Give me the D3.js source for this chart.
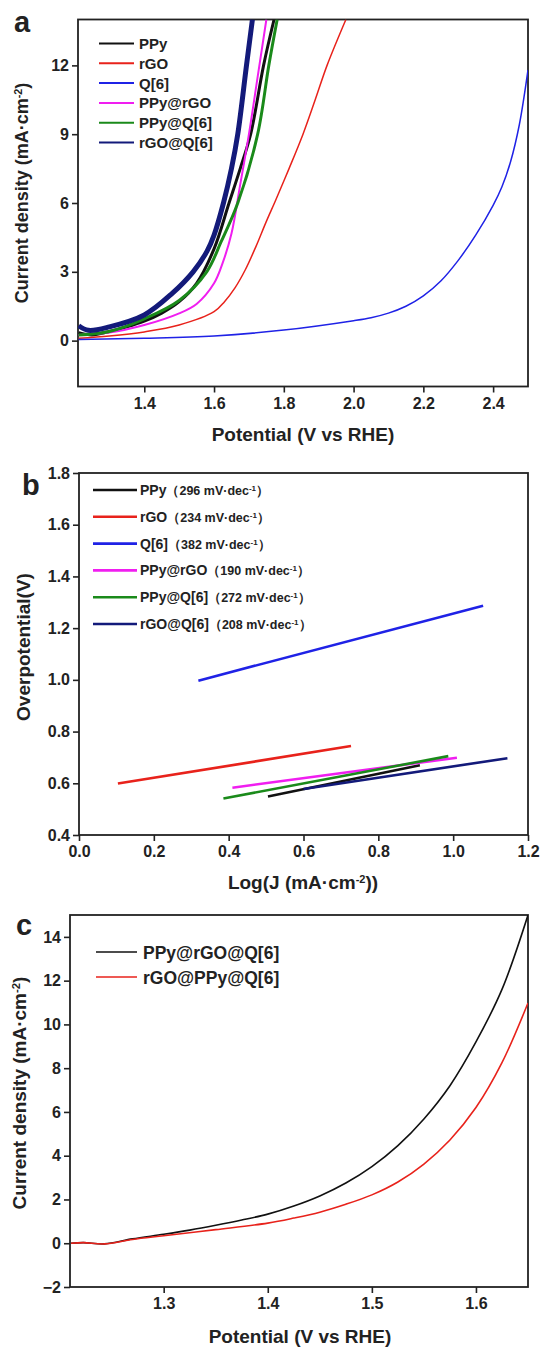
<!DOCTYPE html>
<html>
<head>
<meta charset="utf-8">
<script src="https://cdn.jsdelivr.net/npm/d3@7"></script>
<style>
  body { margin: 0; background: #fff; }
  svg text { font-family: "Liberation Sans", Arial, sans-serif; font-weight: bold; fill: #222; }
</style>
</head>
<body>
<svg id="chart" width="540" height="1349"></svg>
<script>
// ---- panel a: LSV curves ----
var aNames = ["PPy", "rGO", "Q[6]", "PPy@rGO", "PPy@Q[6]", "rGO@Q[6]"];
var aColors = ["#111111", "#e8221b", "#1f22e6", "#f01ef0", "#1a8a1a", "#131a7a"];
var aX = [
  [1.212, 1.25, 1.3, 1.35, 1.4, 1.45, 1.5, 1.55, 1.6, 1.643, 1.675, 1.705, 1.742, 1.772],
  [1.212, 1.3, 1.4, 1.5, 1.6, 1.63, 1.66, 1.69, 1.72, 1.75, 1.776, 1.815, 1.855, 1.89, 1.924, 1.978],
  [1.212, 1.4, 1.6, 1.8, 2.0, 2.05, 2.1, 2.15, 2.2, 2.25, 2.3, 2.35, 2.4, 2.425, 2.45, 2.475, 2.5],
  [1.212, 1.3, 1.4, 1.5, 1.55, 1.6, 1.625, 1.65, 1.675, 1.7, 1.725, 1.75],
  [1.212, 1.3, 1.4, 1.5, 1.579, 1.62, 1.668, 1.725, 1.757, 1.781],
  [1.212, 1.24, 1.3, 1.4, 1.48, 1.54, 1.58, 1.6, 1.627, 1.65, 1.668, 1.693, 1.71]
];
var aY = [
  [0.35, 0.25, 0.4, 0.6, 0.85, 1.2, 1.7, 2.5, 4.0, 6.0, 7.5, 9.0, 12.0, 14.0],
  [0.1, 0.2, 0.38, 0.68, 1.26, 1.7, 2.3, 3.1, 4.1, 5.2, 6.1, 7.5, 9.0, 10.5, 12.0, 14.0],
  [0.05, 0.1, 0.2, 0.46, 0.87, 1.0, 1.2, 1.5, 1.95, 2.6, 3.5, 4.6, 5.9, 6.7, 7.8, 9.4, 11.8],
  [0.25, 0.35, 0.68, 1.19, 1.6, 2.5, 3.4, 4.67, 6.8, 9.0, 11.5, 14.0],
  [0.25, 0.4, 0.95, 1.75, 3.0, 4.3, 6.0, 9.0, 12.0, 14.0],
  [0.65, 0.45, 0.6, 1.12, 2.06, 3.0, 3.9, 4.6, 6.0, 7.5, 9.0, 12.0, 14.0]
];
var aWidths = [3, 1.5, 1.5, 2, 3, 5];
var aXTicks = [1.4, 1.6, 1.8, 2.0, 2.2, 2.4];
var aYTicks = [0, 3, 6, 9, 12];

// ---- panel b: Tafel lines ----
var bNames = ["PPy", "rGO", "Q[6]", "PPy@rGO", "PPy@Q[6]", "rGO@Q[6]"];
var bSlopes = ["296", "234", "382", "190", "272", "208"];
var bColors = ["#111111", "#e8221b", "#1f22e6", "#f01ef0", "#1a8a1a", "#131a7a"];
var bX = [[0.505, 0.911], [0.104, 0.727], [0.319, 1.08], [0.41, 1.01], [0.386, 0.987], [0.60, 1.145]];
var bY = [[0.549, 0.670], [0.599, 0.744], [0.997, 1.287], [0.583, 0.699], [0.541, 0.705], [0.578, 0.697]];
var bXTicks = [0.0, 0.2, 0.4, 0.6, 0.8, 1.0, 1.2];
var bYTicks = [0.4, 0.6, 0.8, 1.0, 1.2, 1.4, 1.6, 1.8];

// ---- panel c: composite LSV ----
var cNames = ["PPy@rGO@Q[6]", "rGO@PPy@Q[6]"];
var cColors = ["#111111", "#e8221b"];
var cX = [
  [1.211, 1.223, 1.243, 1.27, 1.3, 1.325, 1.35, 1.375, 1.4, 1.425, 1.45, 1.475, 1.5, 1.525, 1.55, 1.575, 1.6, 1.625, 1.65],
  [1.211, 1.223, 1.243, 1.27, 1.3, 1.35, 1.4, 1.425, 1.45, 1.475, 1.5, 1.525, 1.55, 1.575, 1.6, 1.625, 1.65]
];
var cY = [
  [0.0, 0.03, -0.03, 0.2, 0.41, 0.6, 0.82, 1.06, 1.33, 1.7, 2.16, 2.75, 3.5, 4.46, 5.68, 7.2, 9.2, 11.6, 15.0],
  [0.0, 0.03, -0.03, 0.17, 0.34, 0.62, 0.92, 1.15, 1.42, 1.78, 2.21, 2.8, 3.62, 4.72, 6.2, 8.25, 10.98]
];
var cXTicks = [1.3, 1.4, 1.5, 1.6];
var cYTicks = [-2, 0, 2, 4, 6, 8, 10, 12, 14];

var svg = d3.select("#chart");
var smooth = d3.curveCatmullRom.alpha(0.5);

function panel(id, box, xDom, yDom, xTicks, yTicks, xFmt, yFmt, fs) {
  var x = d3.scaleLinear().domain(xDom).range([box.left, box.right]);
  var y = d3.scaleLinear().domain(yDom).range([box.bottom, box.top]);
  var g = svg.append("g");
  g.append("clipPath").attr("id", "clip" + id)
    .append("rect")
    .attr("x", box.left).attr("y", box.top)
    .attr("width", box.right - box.left).attr("height", box.bottom - box.top);

  var xa = g.append("g")
    .attr("transform", "translate(0," + box.bottom + ")")
    .call(d3.axisBottom(x).tickValues(xTicks).tickFormat(d3.format(xFmt)).tickSize(6).tickSizeOuter(0).tickPadding(5));
  var ya = g.append("g")
    .attr("transform", "translate(" + box.left + ",0)")
    .call(d3.axisLeft(y).tickValues(yTicks).tickFormat(d3.format(yFmt)).tickSize(6).tickSizeOuter(0).tickPadding(3));
  [xa, ya].forEach(function (a) {
    a.select(".domain").remove();
    a.selectAll("line").attr("stroke", "#222").attr("stroke-width", 1.6);
    a.selectAll("text").style("font-size", fs + "px").attr("fill", "#222");
  });

  g.append("rect")
    .attr("x", box.left).attr("y", box.top)
    .attr("width", box.right - box.left).attr("height", box.bottom - box.top)
    .attr("fill", "none").attr("stroke", "#222").attr("stroke-width", 1.8);

  var plot = g.append("g").attr("clip-path", "url(#clip" + id + ")");
  return { x: x, y: y, g: g, plot: plot };
}

function drawSeries(p, xs, ys, color, width, curve) {
  var pts = xs.map(function (d, i) { return [d, ys[i]]; });
  var line = d3.line()
    .x(function (d) { return p.x(d[0]); })
    .y(function (d) { return p.y(d[1]); })
    .curve(curve);
  p.plot.append("path")
    .datum(pts)
    .attr("d", line)
    .attr("fill", "none")
    .attr("stroke", color)
    .attr("stroke-width", width)
    .attr("stroke-linejoin", "round");
}

function yTitle(g, cx, cy, main, sup, tail, fs) {
  var t = g.append("text")
    .attr("transform", "translate(" + cx + "," + cy + ")rotate(-90)")
    .attr("text-anchor", "middle")
    .style("font-size", fs + "px");
  t.append("tspan").text(main);
  if (sup) {
    t.append("tspan").attr("baseline-shift", "super").style("font-size", (fs * 0.6) + "px").text(sup);
    t.append("tspan").text(tail);
  }
}

// panel a
var pa = panel("a", { left: 78, right: 528, top: 19.5, bottom: 386.5 }, [1.21, 2.5], [-2, 14], aXTicks, aYTicks, ".1f", "d", 16);
aNames.forEach(function (n, i) {
  drawSeries(pa, aX[i], aY[i], aColors[i], aWidths[i], smooth);
});
var legA = pa.g.append("g");
aNames.forEach(function (n, i) {
  var yy = 43.5 + i * 19.8;
  legA.append("line").attr("x1", 99).attr("x2", 134).attr("y1", yy).attr("y2", yy)
    .attr("stroke", aColors[i]).attr("stroke-width", 2);
  legA.append("text").attr("x", 139).attr("y", yy + 5.5).style("font-size", "15px").text(n);
});
pa.g.append("text").attr("x", 14).attr("y", 32).style("font-size", "29px").text("a");
pa.g.append("text").attr("x", 303).attr("y", 441).attr("text-anchor", "middle").style("font-size", "19px").text("Potential (V vs RHE)");
yTitle(pa.g, 28, 193, "Current density (mA·cm", "-2", ")", 18);

// panel b
var pb = panel("b", { left: 79, right: 528, top: 473, bottom: 835 }, [0, 1.2], [0.4, 1.8], bXTicks, bYTicks, ".1f", ".1f", 16);
bNames.forEach(function (n, i) {
  drawSeries(pb, bX[i], bY[i], bColors[i], 2.6, d3.curveLinear);
});
var legB = pb.g.append("g");
bNames.forEach(function (n, i) {
  var yy = 490 + i * 26.8;
  legB.append("line").attr("x1", 93).attr("x2", 137).attr("y1", yy).attr("y2", yy)
    .attr("stroke", bColors[i]).attr("stroke-width", 2.6);
  var t = legB.append("text").attr("x", 140).attr("y", yy + 5).style("font-size", "12.5px");
  t.append("tspan").style("font-size", "14px").text(n);
  t.append("tspan").text("（" + bSlopes[i] + " mV·dec");
  t.append("tspan").attr("baseline-shift", "super").style("font-size", "8px").text("-1");
  t.append("tspan").text("）");
});
pb.g.append("text").attr("x", 22).attr("y", 495).style("font-size", "29px").text("b");
pb.g.append("text").attr("x", 303).attr("y", 889).attr("text-anchor", "middle").style("font-size", "19px").text("Log(J (mA·cm")
  .append("tspan").attr("baseline-shift", "super").style("font-size", "11px").text("-2")
  .select(function () { return this.parentNode; })
  .append("tspan").text("))");
yTitle(pb.g, 30, 647, "Overpotential(V)", null, null, 19);

// panel c
var pc = panel("c", { left: 70, right: 528, top: 915, bottom: 1287 }, [1.21, 1.65], [-2, 15], cXTicks, cYTicks, ".1f", "d", 16);
cNames.forEach(function (n, i) {
  drawSeries(pc, cX[i], cY[i], cColors[i], 1.6, smooth);
});
var legC = pc.g.append("g");
cNames.forEach(function (n, i) {
  var yy = 952 + i * 25;
  legC.append("line").attr("x1", 96).attr("x2", 137).attr("y1", yy).attr("y2", yy)
    .attr("stroke", cColors[i]).attr("stroke-width", 1.6);
  legC.append("text").attr("x", 143).attr("y", yy + 6.5).style("font-size", "17.5px").text(n);
});
pc.g.append("text").attr("x", 16).attr("y", 935).style("font-size", "29px").text("c");
pc.g.append("text").attr("x", 300).attr("y", 1343).attr("text-anchor", "middle").style("font-size", "19px").text("Potential (V vs RHE)");
yTitle(pc.g, 26, 1093, "Current density (mA·cm", "-2", ")", 19);
</script>
</body>
</html>
